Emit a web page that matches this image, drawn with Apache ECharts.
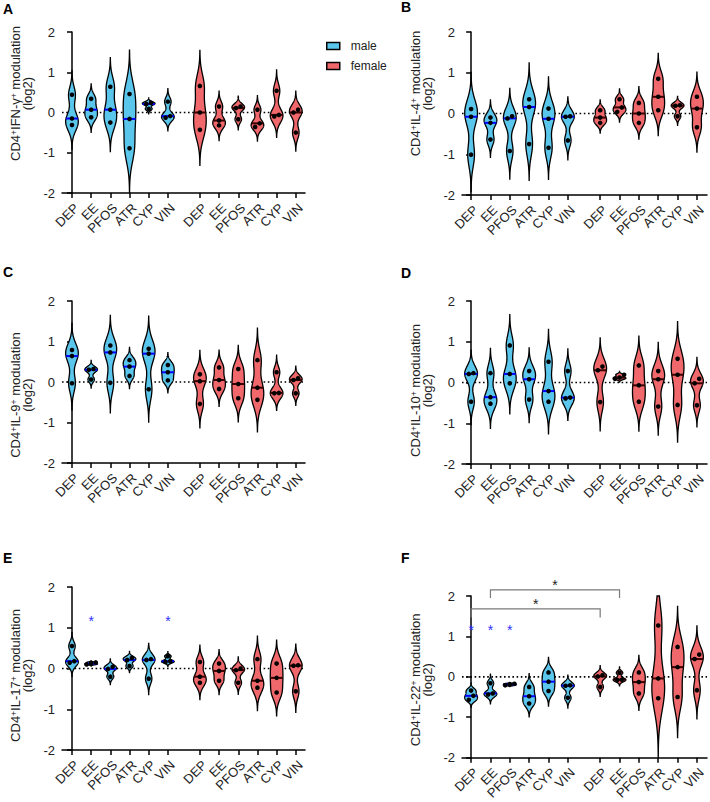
<!DOCTYPE html>
<html><head><meta charset="utf-8">
<script src="https://cdn.jsdelivr.net/npm/echarts@6/dist/echarts.min.js"></script>
<style>html,body{margin:0;padding:0;background:#fff}#c{width:710px;height:802px}</style>
</head><body><div id="c"></div>
<script>
// ---------- data ----------
const groups = ['DEP', 'EE', 'PFOS', 'ATR', 'CYP', 'VIN'];
const sexes = ['male', 'female'];
const yTickValues = [-2, -1, 0, 1, 2];
const panelLetters = ['A', 'B', 'C', 'D', 'E', 'F'];
const cytokines = ['IFN-γ', 'IL-4', 'IL-9', 'IL-10', 'IL-17', 'IL-22'];

// three replicate values per group (log2 modulation)
const maleA   = [[0.44,-0.15,-0.31],[0.34,0.07,-0.12],[0.64,0.07,-0.25],[0.46,-0.16,-0.89],[0.24,0.21,0.09],[0.27,-0.09,-0.13]];
const femaleA = [[0.66,0.00,-0.43],[0.15,-0.20,-0.32],[0.15,0.11,-0.17],[0.07,-0.27,-0.36],[0.54,-0.06,-0.10],[0.07,0.00,-0.50]];
const maleB   = [[0.11,-0.08,-1.01],[-0.10,-0.23,-0.64],[-0.07,-0.12,-0.92],[0.35,0.16,-0.75],[0.12,-0.13,-0.84],[-0.07,-0.08,-0.66]];
const femaleB = [[0.08,-0.10,-0.23],[0.35,0.15,0.04],[0.26,0.00,-0.23],[0.85,0.41,0.08],[0.20,0.19,-0.07],[0.41,0.12,-0.34]];
const maleC   = [[0.79,0.64,-0.03],[0.32,0.30,0.06],[0.90,0.73,-0.02],[0.54,0.38,0.15],[0.82,0.70,-0.18],[0.42,0.24,0.04]];
const femaleC = [[0.19,0.02,-0.54],[0.36,0.05,-0.17],[0.32,-0.05,-0.40],[0.54,-0.14,-0.44],[0.24,-0.27,-0.28],[0.09,0.05,-0.28]];
const maleD   = [[0.23,0.21,-0.47],[0.23,-0.36,-0.52],[0.91,0.21,-0.02],[0.28,0.08,-0.42],[0.51,-0.21,-0.47],[0.28,-0.37,-0.39]];
const femaleD = [[0.39,0.30,-0.48],[0.19,0.12,0.09],[0.42,-0.07,-0.47],[0.28,0.08,-0.59],[0.58,0.19,-0.55],[0.09,-0.02,-0.56]];
const maleE   = [[0.55,0.18,0.14],[0.15,0.12,0.10],[0.04,-0.01,-0.20],[0.26,0.21,0.06],[0.23,0.21,-0.25],[0.30,0.18,0.16]];
const femaleE = [[0.16,-0.20,-0.35],[0.12,-0.06,-0.30],[0.00,-0.04,-0.35],[0.23,-0.30,-0.47],[0.12,-0.23,-0.59],[0.08,0.07,-0.56]];
const maleF   = [[-0.34,-0.47,-0.57],[-0.16,-0.41,-0.44],[-0.17,-0.19,-0.21],[-0.25,-0.48,-0.66],[0.11,-0.12,-0.35],[-0.21,-0.22,-0.52]];
const femaleF = [[0.04,0.01,-0.25],[0.10,-0.07,-0.08],[0.11,-0.13,-0.41],[1.27,-0.04,-0.53],[0.74,0.24,-0.50],[0.55,0.44,-0.33]];

const maleSets = [maleA, maleB, maleC, maleD, maleE, maleF];
const femaleSets = [femaleA, femaleB, femaleC, femaleD, femaleE, femaleF];

// significance marks
const starsE = ['EE', 'VIN'];          // male vs control, panel E
const starsF = ['DEP', 'EE', 'PFOS'];  // male vs control, panel F
const bracketsF = [['DEP', 'DEP'], ['EE', 'EE']]; // male group vs female group, panel F

// ---------- layout / style ----------
const FONT = '"Liberation Sans", Arial, sans-serif';
const Y_MIN = -2, Y_MAX = 2;
const GAP = 0.67;
const HALF_W = 0.33;
const STAR_Y = 1.23;
const bracketLevels = [[1.68, 1.47], [2.15, 1.95]];
const COLORS = { male: '#5bc6ec', female: '#f0686b' };
const MEDIAN = { male: '#0000ff', female: '#3a0000' };
const layout = [
  { left: 62,  top: 32,  width: 243, height: 161, xmin: -0.52, xmax: 12.15, shift: 19,  letter: [3, 2] },
  { left: 462, top: 32,  width: 245, height: 163, xmin: -0.47, xmax: 12.19, shift: 20,  letter: [401, 0] },
  { left: 62,  top: 301, width: 243, height: 162, xmin: -0.52, xmax: 12.15, shift: -13, letter: [3, 265] },
  { left: 462, top: 301, width: 245, height: 163, xmin: -0.47, xmax: 12.19, shift: -8,  letter: [401, 266] },
  { left: 62,  top: 587, width: 243, height: 163, xmin: -0.52, xmax: 12.15, shift: -7,  letter: [3, 551] },
  { left: 462, top: 596, width: 245, height: 162, xmin: -0.47, xmax: 12.19, shift: -3,  letter: [401, 551] }
];
const pos = (sexIdx, gIdx) => gIdx + sexIdx * (groups.length + GAP);
const tickPositions = [];
const tickNames = [];
sexes.forEach((s, si) => groups.forEach((g, gi) => { tickPositions.push(pos(si, gi)); tickNames.push(g); }));
const labelFor = v => {
  let best = 0;
  tickPositions.forEach((p, i) => { if (Math.abs(p - v) < Math.abs(tickPositions[best] - v)) best = i; });
  return tickNames[best];
};

function median(arr) {
  const s = arr.slice().sort((a, b) => a - b), n = s.length;
  return n % 2 ? s[(n - 1) / 2] : (s[n / 2 - 1] + s[n / 2]) / 2;
}

function makeViolinRenderer(sex) {
  return function (params, api) {
    const xc = api.value(0);
    const vals = [api.value(1), api.value(2), api.value(3)].sort((a, b) => a - b);
    const n = vals.length;
    const mean = vals.reduce((a, b) => a + b, 0) / n;
    const sd = Math.sqrt(vals.reduce((s, v) => s + (v - mean) * (v - mean), 0) / (n - 1));
    const q = p => { const idx = (n - 1) * p, lo = Math.floor(idx), hi = Math.ceil(idx); return vals[lo] + (vals[hi] - vals[lo]) * (idx - lo); };
    const iqr = q(0.75) - q(0.25);
    let spread = Math.min(sd, iqr / 1.34);
    if (!(spread > 0)) spread = sd > 0 ? sd : 0.02;
    const h = 0.9 * spread * Math.pow(n, -0.2);
    const lo = Math.max(Y_MIN, vals[0] - 3 * h), hi = Math.min(Y_MAX, vals[n - 1] + 3 * h);
    const dens = y => vals.reduce((s, v) => s + Math.exp(-0.5 * ((y - v) / h) * ((y - v) / h)), 0);
    const STEPS = 140, ys = [], ds = [];
    for (let k = 0; k <= STEPS; k++) { const y = lo + (hi - lo) * k / STEPS; ys.push(y); ds.push(dens(y)); }
    const dmax = Math.max.apply(null, ds);
    const halfPx = api.size([HALF_W, 0])[0];
    const cx = api.coord([xc, 0])[0];
    const right = [], left = [];
    for (let k = 0; k <= STEPS; k++) {
      const py = api.coord([xc, ys[k]])[1];
      const w = halfPx * ds[k] / dmax;
      right.push([cx + w, py]);
      left.unshift([cx - w, py]);
    }
    const med = median(vals);
    const wm = halfPx * dens(med) / dmax;
    const pm = api.coord([xc, med])[1];
    const children = [
      { type: 'polygon', shape: { points: right.concat(left) },
        style: { fill: COLORS[sex], stroke: '#000', lineWidth: 1.3 } },
      { type: 'line', shape: { x1: cx - wm, y1: pm, x2: cx + wm, y2: pm },
        style: { stroke: MEDIAN[sex], lineWidth: 2 } }
    ];
    // dots, spread sideways when they overlap
    const pys = vals.map(v => api.coord([xc, v])[1]);
    const clusters = [];
    pys.forEach((py, i) => {
      const last = clusters[clusters.length - 1];
      if (last && Math.abs(pys[last[last.length - 1]] - py) < 4.5) last.push(i); else clusters.push([i]);
    });
    clusters.forEach(cl => cl.forEach((i, j) => {
      const dx = (j - (cl.length - 1) / 2) * 4.6;
      children.push({ type: 'circle', shape: { cx: cx + dx, cy: pys[i], r: 2.3 }, style: { fill: '#000' } });
    }));
    return { type: 'group', children };
  };
}

function starRenderer(color) {
  return function (params, api) {
    const p = api.coord([api.value(0), api.value(1)]);
    return { type: 'text', x: p[0], y: p[1] + 3,
      style: { text: '*', fill: color, font: '14px ' + FONT, align: 'center', verticalAlign: 'middle' } };
  };
}

function bracketRenderer(params, api) {
  const a = api.coord([api.value(0), api.value(2)]);
  const b = api.coord([api.value(1), api.value(2)]);
  const drop = api.coord([api.value(0), api.value(3)])[1];
  return { type: 'group', children: [
    { type: 'polyline', shape: { points: [[a[0], drop], [a[0], a[1]], [b[0], b[1]], [b[0], drop]] },
      style: { stroke: '#7a7a7a', lineWidth: 1.2, fill: null } },
    { type: 'text', x: (a[0] + b[0]) / 2, y: a[1] - 5,
      style: { text: '*', fill: '#222', font: '14px ' + FONT, align: 'center', verticalAlign: 'middle' } }
  ] };
}

const grid = [], xAxis = [], yAxis = [], series = [], graphic = [];
layout.forEach((L, p) => {
  grid.push({ left: L.left, top: L.top, width: L.width, height: L.height });
  xAxis.push({
    type: 'value', gridIndex: p, min: L.xmin, max: L.xmax,
    splitLine: { show: false },
    axisLine: { show: true, onZero: false, lineStyle: { color: '#000', width: 1.5 } },
    axisTick: { show: true, length: 5, lineStyle: { color: '#000', width: 1.5 }, customValues: tickPositions },
    axisLabel: { customValues: tickPositions, formatter: labelFor, rotate: 45, margin: 8,
      align: 'right', verticalAlign: 'top', hideOverlap: false,
      fontSize: 13, color: '#222', fontFamily: FONT }
  });
  const padding = L.shift >= 0 ? [0, 0, 0, 2 * L.shift] : [0, -2 * L.shift, 0, 0];
  yAxis.push({
    type: 'value', gridIndex: p, min: Y_MIN, max: Y_MAX, interval: 1,
    splitLine: { show: false },
    axisLine: { show: true, lineStyle: { color: '#000', width: 1.5 } },
    axisTick: { show: true, length: 5, lineStyle: { color: '#000', width: 1.5 } },
    axisLabel: { fontSize: 13, color: '#222', fontFamily: FONT, margin: 7,
      customValues: yTickValues },
    name: '{a|CD4}{s|+}{a|' + cytokines[p] + '}{s|+}{a| modulation}\n{a|(log2)}',
    nameLocation: 'middle', nameRotate: 90, nameGap: 29,
    nameTextStyle: {
      padding, align: 'center',
      rich: {
        a: { fontSize: 13, lineHeight: 12, fontFamily: FONT, color: '#222' },
        s: { fontSize: 8.5, lineHeight: 6, verticalAlign: 'top', fontFamily: FONT, color: '#222' }
      }
    }
  });
  series.push({
    type: 'line', xAxisIndex: p, yAxisIndex: p, silent: true, symbol: 'none', z: 1,
    data: [[L.xmin, 0], [L.xmax, 0]],
    lineStyle: { color: '#000', width: 1.6, type: [1.6, 2.6] }
  });
  [maleSets[p], femaleSets[p]].forEach((sets, si) => {
    const sex = sexes[si];
    series.push({
      type: 'custom', name: sex, xAxisIndex: p, yAxisIndex: p, z: 3,
      itemStyle: { color: COLORS[sex], borderColor: '#000', borderWidth: 1.5 },
      renderItem: makeViolinRenderer(sex),
      data: sets.map((v, gi) => [pos(si, gi)].concat(v))
    });
  });
  graphic.push({ type: 'text', left: L.letter[0], top: L.letter[1],
    style: { text: panelLetters[p], font: 'bold 14px ' + FONT, fill: '#000' } });
});

series.push({
  type: 'custom', name: 'starsE', xAxisIndex: 4, yAxisIndex: 4, clip: false, z: 4,
  renderItem: starRenderer('#2f2fff'),
  data: starsE.map(g => [pos(0, groups.indexOf(g)), STAR_Y])
});
series.push({
  type: 'custom', name: 'starsF', xAxisIndex: 5, yAxisIndex: 5, clip: false, z: 4,
  renderItem: starRenderer('#2f2fff'),
  data: starsF.map(g => [pos(0, groups.indexOf(g)), STAR_Y])
});
series.push({
  type: 'custom', name: 'bracketsF', xAxisIndex: 5, yAxisIndex: 5, clip: false, z: 4,
  renderItem: bracketRenderer,
  data: bracketsF.map((b, i) => [pos(0, groups.indexOf(b[0])), pos(1, groups.indexOf(b[1])), bracketLevels[i][0], bracketLevels[i][1]])
});

const chart = echarts.init(document.getElementById('c'), null, { renderer: 'svg' });
chart.setOption({
  animation: false,
  backgroundColor: '#fff',
  grid, xAxis, yAxis, series, graphic,
  legend: {
    data: sexes, orient: 'vertical', left: 321, top: 35,
    icon: 'rect', itemWidth: 13, itemHeight: 7, itemGap: 8,
    itemStyle: { borderColor: '#000', borderWidth: 1.5 },
    textStyle: { fontSize: 12, color: '#222', fontFamily: FONT, padding: [0, 0, 0, 6] }
  }
});
</script></body></html>
